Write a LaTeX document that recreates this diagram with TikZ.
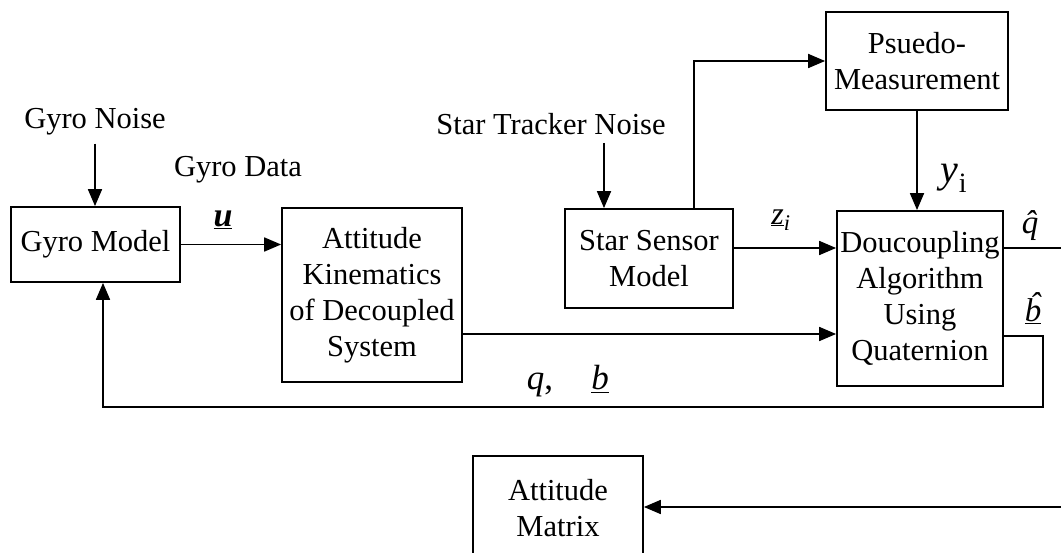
\documentclass[tikz,border=0pt]{standalone}
\usepackage{fontspec}
\setmainfont{Liberation Serif}
\usetikzlibrary{arrows.meta,calc}
\begin{document}
\begin{tikzpicture}[x=1pt,y=-1pt,
  box/.style={draw,line width=1.8pt,inner sep=0pt,align=center,font=\fontsize{30.5}{36}\selectfont},
  lbl/.style={inner sep=2pt,font=\fontsize{30.5}{36}\selectfont},
  arr/.style={line width=1.8pt,-{Triangle[length=17pt,width=14pt]}},
  ln/.style={line width=1.8pt}]
\useasboundingbox (0,0) rectangle (1061,553);
\fill[white] (0,0) rectangle (1061,553);
% boxes
\node[box,minimum width=169pt,minimum height=75pt] (gyro) at (95.5,244.5) {Gyro Model};
\node[box,minimum width=180pt,minimum height=174pt] (att) at (372,295) {Attitude\\Kinematics\\of Decoupled\\System};
\node[box,minimum width=168pt,minimum height=99pt] (ss) at (649,258.5) {Star Sensor\\Model};
\node[box,minimum width=182pt,minimum height=98pt] (ps) at (917,61) {Psuedo-\\Measurement};
\node[box,minimum width=166pt,minimum height=175pt] (dc) at (920,298.5) {Doucoupling\\Algorithm\\Using\\Quaternion};
\node[box,minimum width=170pt,minimum height=104pt] (am) at (558,508) {Attitude\\Matrix};
% labels
\node[lbl] (gn) at (95,122) {Gyro Noise};
\node[lbl] (gd) at (238,170) {Gyro Data};
\node[lbl] (stn) at (551,124) {Star Tracker Noise};
\node[lbl,font=\fontsize{34}{40}\selectfont\bfseries\itshape] (lu) at (223,220) {\underline{u}};
\node[lbl,font=\fontsize{32}{38}\selectfont] (lz) at (781,220) {\underline{\textit{z}}\textsubscript{\textit{i}}};
\node[lbl,font=\fontsize{40}{46}\selectfont] (ly) at (954,178) {\textit{y}\textsubscript{i}};
\node[lbl,font=\fontsize{33}{38}\selectfont] (lq) at (1030,226) {\textit{\accent"02C6 q}};
\node[lbl,font=\fontsize{33}{38}\selectfont] (lb) at (1033,308) {\underline{\textit{\accent"02C6 b}}};
\node[lbl,font=\fontsize{35}{40}\selectfont] (lqb) at (540,385) {\textit{q},};
\node[lbl,font=\fontsize{35}{40}\selectfont] (lbb) at (600,379) {\underline{\textit{b}}};
% coordinates
\coordinate (stx) at (604,0);
\coordinate (pstart) at (694,0);
\coordinate (zy) at (0,248);
\coordinate (ay) at (0,334);
\coordinate (qend) at (1061,248);
\coordinate (bcorner) at (1043,336);
\coordinate (fbl) at (103,407);
\coordinate (amr) at (1061,507);
% connectors
\draw[arr,shorten <=6pt] (gn.south) -- (gn.south |- gyro.north);
\draw[arr] (gyro.east) -- (gyro.east -| att.west);
\draw[arr,shorten <=6pt] (stn.south -| stx) -- (ss.north -| stx);
\draw[arr] (ss.north -| pstart) |- (ps.west);
\draw[arr] (ps.south) -- (ps.south |- dc.north);
\draw[arr] (ss.east |- zy) -- (dc.west |- zy);
\draw[arr] (att.east |- ay) -- (dc.west |- ay);
\draw[ln] (dc.east |- qend) -- (qend);
\draw[arr] (dc.east |- bcorner) -- (bcorner) |- (fbl) -- (fbl |- gyro.south);
\draw[arr] (amr) -- (amr -| am.east);
\end{tikzpicture}
\end{document}
